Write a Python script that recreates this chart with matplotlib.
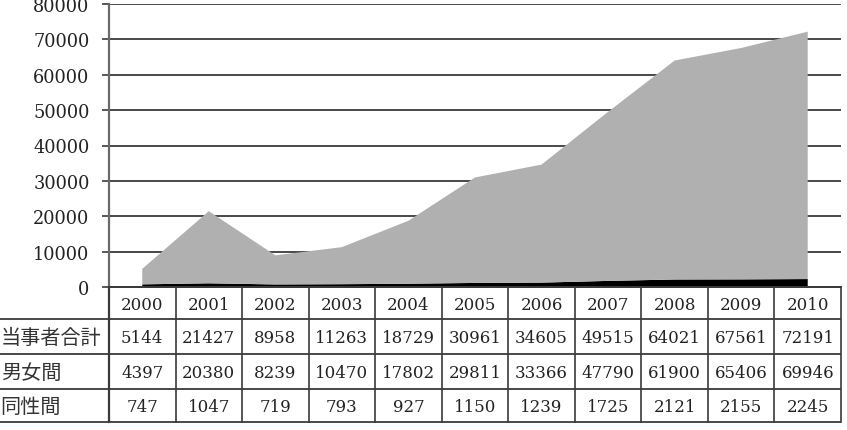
import matplotlib
matplotlib.use("Agg")
import matplotlib.pyplot as plt

years = ["2000", "2001", "2002", "2003", "2004", "2005",
         "2006", "2007", "2008", "2009", "2010"]
total = [5144, 21427, 8958, 11263, 18729, 30961, 34605, 49515, 64021, 67561, 72191]
hetero = [4397, 20380, 8239, 10470, 17802, 29811, 33366, 47790, 61900, 65406, 69946]
same_sex = [747, 1047, 719, 793, 927, 1150, 1239, 1725, 2121, 2155, 2245]
row_labels = ["当事者合計", "男女間", "同性間"]
y_ticks = list(range(0, 80001, 10000))

W, H = 847, 431
AX_L, AX_R, AX_T, AX_B = 109, 841, 5, 288
ROW_Y = [288, 320, 355, 390, 423]

SERIF = ["DejaVu Serif"]
CJK = ["Noto Sans CJK JP", "DejaVu Sans"]
LINE = "#3a3a3a"
TEXT = "#222222"

fig = plt.figure(figsize=(W / 100, H / 100), dpi=100)
fig.patch.set_facecolor("white")

ax = fig.add_axes([AX_L / W, 1 - AX_B / H, (AX_R - AX_L) / W, (AX_B - AX_T) / H])
x = list(range(len(years)))
ax.stackplot(x, same_sex, hetero, colors=["#000000", "#b0b0b0"], linewidth=0)
ax.set_xlim(-0.5, len(years) - 0.5)
ax.set_ylim(0, 80000)
ax.set_yticks(y_ticks)
ax.set_yticklabels([str(v) for v in y_ticks], family=SERIF, fontsize=12.8, color=TEXT)
ax.set_xticks([])
ax.tick_params(axis="y", length=5, width=1.2, color=LINE, pad=9)
ax.grid(axis="y", color=LINE, linewidth=1.3)
ax.set_axisbelow(True)
for side in ("top", "right"):
    ax.spines[side].set_visible(False)
ax.spines["left"].set_color("#6a6a6a")
ax.spines["left"].set_linewidth(1.6)
ax.spines["bottom"].set_color(LINE)
ax.spines["bottom"].set_linewidth(1.3)

# data table below the plot, in column units matching the plot's x axis
col_w = (AX_R - AX_L) / len(years)
x0 = -0.5 - AX_L / col_w
tab = fig.add_axes([0, 1 - ROW_Y[-1] / H, AX_R / W, (ROW_Y[-1] - ROW_Y[0]) / H])
tab.set_xlim(x0, len(years) - 0.5)
tab.set_ylim(ROW_Y[-1], ROW_Y[0])
tab.axis("off")

for i, yv in enumerate(ROW_Y):
    left = -0.5 if i == 0 else x0
    tab.plot([left, len(years) - 0.5], [yv, yv], color=LINE, lw=1.3,
             solid_capstyle="butt", clip_on=False)
for i in range(len(years) + 1):
    tab.plot([i - 0.5, i - 0.5], [ROW_Y[0], ROW_Y[-1]], color=LINE,
             lw=1.6 if i == 0 else 1.2, clip_on=False)

rows = [total, hetero, same_sex]
for i, yr in enumerate(years):
    tab.text(i, (ROW_Y[0] + ROW_Y[1]) / 2 + 1, yr, ha="center", va="center",
             family=SERIF, fontsize=12, color=TEXT)
for r, (label, vals) in enumerate(zip(row_labels, rows)):
    yc = (ROW_Y[r + 1] + ROW_Y[r + 2]) / 2 + 1
    tab.text(x0 + 0.01, yc, label, ha="left", va="center",
             family=CJK, fontsize=14.5, color="#333333")
    for i, v in enumerate(vals):
        tab.text(i, yc, str(v), ha="center", va="center",
                 family=SERIF, fontsize=12, color=TEXT)

fig.savefig("out.png", dpi=100)
